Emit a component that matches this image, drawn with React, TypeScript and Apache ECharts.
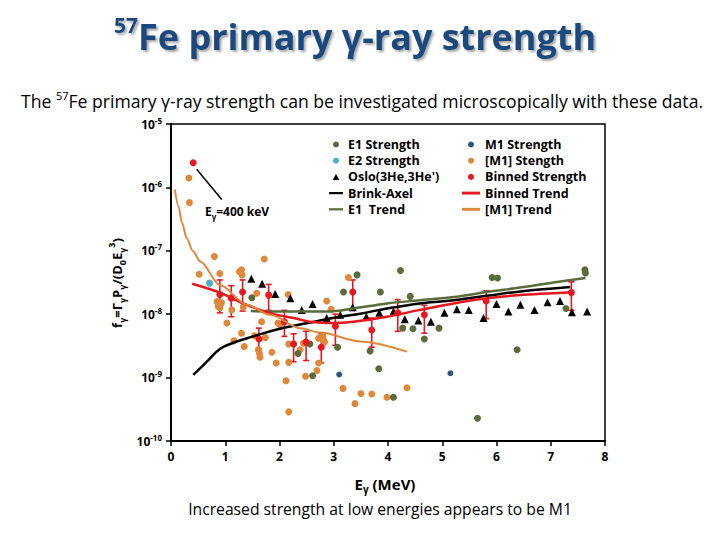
import React, { useEffect, useRef } from "react";
import * as echarts from "echarts";

const FONT = "'Open Sans', 'Noto Sans', 'DejaVu Sans', sans-serif";

// Energies in MeV, strengths f (MeV^-3)
const e1Strength = [
  [1.49, 1.82e-8], [2.34, 2.4e-9], [2.56, 3.39e-9], [2.61, 1.07e-9], [3.07, 3.02e-9],
  [3.18, 2.24e-8], [3.43, 4.17e-8], [3.67, 2.63e-9], [3.83, 1.38e-9], [3.86, 2.24e-8],
  [4.1, 4.9e-10], [4.23, 4.9e-8], [4.27, 6.03e-9], [4.41, 1.91e-8], [4.46, 5.89e-9],
  [4.67, 4.07e-9], [4.94, 6.03e-9], [5.65, 2.29e-10], [5.92, 3.8e-8], [6.02, 3.72e-8],
  [6.38, 2.75e-9], [7.28, 1.23e-8], [7.63, 5.01e-8], [7.64, 4.47e-8],
];
const m1Strength = [[3.1, 1.12e-9], [5.15, 1.17e-9]];
const e2Strength = [[0.71, 3.09e-8]];
const m1bStrength = [
  [0.33, 1.41e-6], [0.34, 5.75e-7], [0.52, 4.27e-8], [0.8, 8.13e-8], [0.9, 4.37e-8],
  [0.85, 1.58e-8], [0.88, 1.41e-8], [0.93, 1.51e-8], [0.9, 1.26e-8], [0.87, 1.32e-8],
  [1.03, 7.24e-9], [1.12, 1.17e-8], [1.16, 3.8e-9], [1.26, 4.68e-8], [1.3, 5.01e-8],
  [1.31, 4.17e-8], [1.3, 5.01e-9], [1.33, 1.29e-8], [1.35, 3.09e-9], [1.54, 4.57e-9],
  [1.58, 2.14e-8], [1.61, 2.75e-9], [1.63, 2.4e-9], [1.64, 2.09e-9], [1.67, 7.59e-9],
  [1.72, 7.41e-8], [1.74, 4.27e-9], [1.86, 2.51e-9], [1.94, 1.7e-9], [1.97, 7.24e-9],
  [2.01, 6.9e-9], [2.12, 8.91e-10], [2.16, 2.04e-8], [2.17, 3.39e-9], [2.17, 1.74e-9],
  [2.17, 2.88e-10], [2.38, 2.75e-9], [2.44, 3.47e-9], [2.48, 1.05e-9], [2.69, 1.29e-9],
  [2.72, 1.7e-9], [2.72, 4.17e-9], [2.8, 4.47e-9], [2.81, 3.89e-9], [2.83, 3.63e-9],
  [2.87, 1.62e-8], [2.95, 1.2e-8], [3.17, 6.76e-10], [3.27, 3.8e-8], [3.39, 3.89e-10],
  [3.5, 5.62e-10], [3.7, 5.5e-10], [3.98, 4.9e-10], [4.35, 6.92e-10],
];
const osloStrength = [
  [1.48, 3.63e-8], [1.68, 3.02e-8], [1.92, 2.09e-8], [2.2, 1.78e-8], [2.41, 1.17e-8],
  [2.61, 1.45e-8], [2.87, 8.71e-9], [3.12, 9.77e-9], [3.35, 1.29e-8], [3.6, 9.12e-9],
  [3.84, 1.05e-8], [4.1, 1.1e-8], [4.31, 8.32e-9], [4.56, 7.94e-9], [4.79, 7.59e-9],
  [5.04, 1.05e-8], [5.27, 1.2e-8], [5.49, 1.17e-8], [5.76, 8.71e-9], [6.0, 1.45e-8],
  [6.22, 1.1e-8], [6.44, 1.41e-8], [6.7, 1.17e-8], [6.94, 1.55e-8], [7.17, 1.62e-8],
  [7.39, 1.07e-8], [7.67, 1.1e-8],
];
// [E, f, f low, f high]
const binnedStrength = [
  [0.41, 2.45e-6, 2.45e-6, 2.45e-6],
  [0.9, 2.04e-8, 1.05e-8, 3.47e-8],
  [1.11, 1.78e-8, 9.12e-9, 2.82e-8],
  [1.32, 2.24e-8, 1.12e-8, 3.47e-8],
  [1.62, 4.07e-9, 2.88e-9, 6.03e-9],
  [1.8, 2.0e-8, 1.15e-8, 2.95e-8],
  [2.09, 7.59e-9, 4.47e-9, 1.15e-8],
  [2.26, 3.39e-9, 1.78e-9, 4.9e-9],
  [2.49, 3.63e-9, 1.86e-9, 5.37e-9],
  [2.77, 3.02e-9, 1.7e-9, 4.9e-9],
  [3.03, 6.46e-9, 3.24e-9, 1.0e-8],
  [3.35, 2.24e-8, 1.15e-8, 3.47e-8],
  [3.7, 5.62e-9, 3.02e-9, 8.71e-9],
  [4.18, 1.05e-8, 5.37e-9, 1.7e-8],
  [4.67, 9.77e-9, 5.01e-9, 1.38e-8],
  [5.81, 1.62e-8, 8.51e-9, 2.34e-8],
  [7.38, 2.19e-8, 1.15e-8, 3.24e-8],
];
const brinkAxel = [
  [0.41, 1.1e-9], [0.66, 1.78e-9], [0.9, 2.82e-9], [1.15, 3.55e-9], [1.52, 4.47e-9],
  [1.95, 5.75e-9], [2.4, 6.92e-9], [2.69, 7.76e-9], [3.12, 9.12e-9], [3.49, 1.02e-8],
  [3.98, 1.23e-8], [4.59, 1.48e-8], [5.21, 1.66e-8], [5.82, 1.95e-8], [6.44, 2.29e-8],
  [7.36, 2.69e-8],
];
const binnedTrend = [
  [0.39, 3.02e-8], [0.9, 2.19e-8], [1.33, 1.48e-8], [1.64, 1.17e-8], [1.95, 9.77e-9],
  [2.26, 8.71e-9], [2.56, 7.59e-9], [2.99, 7.24e-9], [3.36, 7.59e-9], [3.98, 9.12e-9],
  [4.59, 1.17e-8], [5.21, 1.48e-8], [5.82, 1.78e-8], [6.44, 2.0e-8], [7.36, 2.19e-8],
];
const e1Trend = [
  [1.47, 1.12e-8], [2.2, 1.1e-8], [2.9, 1.1e-8], [3.36, 1.23e-8], [3.98, 1.48e-8],
  [4.59, 1.66e-8], [5.21, 1.86e-8], [5.82, 2.24e-8], [6.44, 2.63e-8], [7.05, 3.16e-8],
  [7.64, 3.72e-8],
];
const m1Trend = [
  [0.07, 9.33e-7], [0.14, 5.01e-7], [0.2, 2.82e-7], [0.29, 1.58e-7], [0.4, 1.0e-7],
  [0.54, 6.76e-8], [0.9, 2.88e-8], [1.4, 1.41e-8], [1.83, 9.77e-9], [2.38, 6.03e-9],
  [2.75, 5.13e-9], [3.49, 3.72e-9], [4.35, 2.57e-9],
];
const xRange = [0, 8];
const yDecades = [-10, -5];
const arrowTail = [0.935, 6.46e-7];
const arrowHead = [0.474, 1.93e-6];

const C = {
  e1: "#5b6b3b",
  m1: "#2a5585",
  e2: "#4bacc6",
  m1b: "#e0883a",
  red: "#e8161e",
  black: "#000000",
};

const LINE_ICON = "path://M0,0H20V3.2H0Z";
const TRI_ICON = "path://M5,0L10,9H0Z";

function buildOption() {
  const legendText = { fontFamily: FONT, fontWeight: "bold" as const, fontSize: 12.5, color: "#000", lineHeight: 12 };
  const dot = (name: string, color: string) => ({ name, icon: "circle", itemStyle: { color, borderWidth: 0 } });
  const tri = (name: string, color: string) => ({ name, icon: TRI_ICON, itemStyle: { color, borderWidth: 0 } });
  const ln = (name: string, color: string) => ({ name, icon: LINE_ICON, itemStyle: { color, borderWidth: 0 } });
  const legendBase = {
    orient: "vertical",
    top: 138,
    padding: 0,
    itemHeight: 6,
    itemGap: 3.2,
    textStyle: legendText,
    selectedMode: false,
  };
  return {
    animation: false,
    backgroundColor: "#ffffff",
    grid: { left: 171, right: 115, top: 124, bottom: 99, show: true, borderColor: "#000", borderWidth: 1.5, backgroundColor: "transparent" },
    xAxis: {
      type: "value",
      min: xRange[0],
      max: xRange[1],
      interval: 1,
      splitLine: { show: false },
      axisLine: { lineStyle: { color: "#000", width: 2 } },
      axisTick: { inside: false, length: 5, lineStyle: { color: "#000", width: 1.5 } },
      axisLabel: { margin: 9, fontFamily: FONT, fontWeight: "bold", fontSize: 12, color: "#000" },
    },
    yAxis: {
      type: "log",
      logBase: 10,
      min: Math.pow(10, yDecades[0]),
      max: Math.pow(10, yDecades[1]),
      splitLine: { show: false },
      axisLine: { show: true, lineStyle: { color: "#000", width: 2 } },
      axisTick: { show: true, inside: false, length: 5, lineStyle: { color: "#000", width: 1.5 } },
      axisLabel: {
        margin: 9,
        formatter: (v: number) => `{b|10}{s|${Math.round(Math.log10(v))}}`,
        rich: {
          b: { fontFamily: FONT, fontWeight: "bold", fontSize: 12, color: "#000", lineHeight: 16 },
          s: { fontFamily: FONT, fontWeight: "bold", fontSize: 8, color: "#000", lineHeight: 10, verticalAlign: "top" },
        },
      },
    },
    legend: [
      {
        ...legendBase,
        left: 329,
        itemWidth: 14,
        data: [
          dot("E1 Strength", C.e1),
          dot("E2 Strength", C.e2),
          tri("Oslo(3He,3He')", C.black),
          ln("Brink-Axel", C.black),
          ln("E1  Trend", C.e1),
        ],
      },
      {
        ...legendBase,
        left: 462,
        itemWidth: 18,
        data: [
          dot("M1 Strength", C.m1),
          dot("[M1] Stength", C.m1b),
          dot("Binned Strength", C.red),
          ln("Binned Trend", C.red),
          ln("[M1] Trend", C.m1b),
        ],
      },
    ],
    series: [
      { name: "[M1] Stength", type: "scatter", data: m1bStrength, symbolSize: 7, itemStyle: { color: C.m1b, opacity: 1 } },
      { name: "E1 Strength", type: "scatter", data: e1Strength, symbolSize: 7, itemStyle: { color: C.e1, opacity: 1 } },
      { name: "M1 Strength", type: "scatter", data: m1Strength, symbolSize: 6, itemStyle: { color: C.m1, opacity: 1 } },
      { name: "E2 Strength", type: "scatter", data: e2Strength, symbolSize: 7, itemStyle: { color: C.e2, opacity: 1 } },
      { name: "Oslo(3He,3He')", type: "scatter", symbol: "triangle", data: osloStrength, symbolSize: 8, itemStyle: { color: C.black, opacity: 1 } },
      { name: "E1  Trend", type: "line", data: e1Trend, symbol: "none", smooth: 0.3, lineStyle: { color: C.e1, width: 2.5 }, itemStyle: { color: C.e1 } },
      { name: "Brink-Axel", type: "line", data: brinkAxel, symbol: "none", smooth: 0.4, lineStyle: { color: C.black, width: 2.5 }, itemStyle: { color: C.black } },
      { name: "Binned Trend", type: "line", data: binnedTrend, symbol: "none", smooth: 0.3, lineStyle: { color: C.red, width: 2.5 }, itemStyle: { color: C.red } },
      { name: "[M1] Trend", type: "line", data: m1Trend, symbol: "none", smooth: 0.3, smoothMonotone: "x", lineStyle: { color: C.m1b, width: 2 }, itemStyle: { color: C.m1b } },
      {
        name: "Binned Errors",
        type: "custom",
        data: binnedStrength,
        encode: { x: 0, y: [2, 3] },
        renderItem: (_p: any, api: any) => {
          const x = api.value(0);
          const lo = api.coord([x, api.value(2)]);
          const hi = api.coord([x, api.value(3)]);
          if (Math.abs(lo[1] - hi[1]) < 1) return { type: "group", children: [] };
          const style = { stroke: C.red, lineWidth: 1.6 };
          const cap = 3;
          return {
            type: "group",
            children: [
              { type: "line", shape: { x1: lo[0], y1: lo[1], x2: hi[0], y2: hi[1] }, style },
              { type: "line", shape: { x1: lo[0] - cap, y1: lo[1], x2: lo[0] + cap, y2: lo[1] }, style },
              { type: "line", shape: { x1: hi[0] - cap, y1: hi[1], x2: hi[0] + cap, y2: hi[1] }, style },
            ],
          };
        },
      },
      {
        name: "Binned Strength",
        type: "scatter",
        data: binnedStrength.map((d) => [d[0], d[1]]),
        symbolSize: 7,
        itemStyle: { color: C.red, opacity: 1 },
        markLine: {
          silent: true,
          symbol: ["none", "arrow"],
          symbolSize: [0, 9],
          label: { show: false },
          lineStyle: { color: "#000", width: 1.5, type: "solid" },
          data: [[{ coord: arrowTail }, { coord: arrowHead }]],
        },
      },
    ],
    graphic: [
      {
        type: "text",
        x: 114,
        y: 14,
        style: {
          text: "{sup|57}{m|Fe primary γ-ray strength}",
          textAlign: "left",
          textVerticalAlign: "top",
          align: "left",
          verticalAlign: "top",
          fill: "#1f497d",
          textShadowColor: "rgba(0,0,0,0.35)",
          textShadowBlur: 2,
          textShadowOffsetX: 2,
          textShadowOffsetY: 2,
          rich: {
            sup: { fontFamily: FONT, fontWeight: "bold", fontSize: 21, lineHeight: 26, verticalAlign: "top", fill: "#1f497d", textShadowColor: "rgba(0,0,0,0.35)", textShadowBlur: 2, textShadowOffsetX: 2, textShadowOffsetY: 2 },
            m: { fontFamily: FONT, fontWeight: "bold", fontSize: 36, lineHeight: 44, fill: "#1f497d", textShadowColor: "rgba(0,0,0,0.35)", textShadowBlur: 2, textShadowOffsetX: 2, textShadowOffsetY: 2 },
          },
        },
      },
      {
        type: "text",
        x: 362,
        y: 101,
        style: {
          text: "{r|The }{sup|57}{r|Fe primary γ-ray strength can be investigated microscopically with these data.}",
          textAlign: "center",
          textVerticalAlign: "middle",
          align: "center",
          verticalAlign: "middle",
          rich: {
            r: { fontFamily: FONT, fontSize: 17.6, lineHeight: 22, fill: "#000" },
            sup: { fontFamily: FONT, fontSize: 11, lineHeight: 13, verticalAlign: "top", fill: "#000" },
          },
        },
      },
      {
        type: "text",
        x: 117,
        y: 283,
        rotation: Math.PI / 2,
        style: {
          text: "{m|f}{s|γ}{m|=Γ}{s|γ}{m|P}{s|γ}{m|/(D}{s|0}{m|E}{s|γ}{p|3}{m|)}",
          textAlign: "center",
          textVerticalAlign: "middle",
          align: "center",
          verticalAlign: "middle",
          rich: {
            m: { fontFamily: FONT, fontWeight: "bold", fontSize: 13, lineHeight: 20, fill: "#000" },
            s: { fontFamily: FONT, fontWeight: "bold", fontSize: 9, lineHeight: 10, verticalAlign: "bottom", fill: "#000" },
            p: { fontFamily: FONT, fontWeight: "bold", fontSize: 9, lineHeight: 12, verticalAlign: "top", fill: "#000" },
          },
        },
      },
      {
        type: "text",
        x: 385,
        y: 484,
        style: {
          text: "{m|E}{s|γ}{m| (MeV)}",
          textAlign: "center",
          textVerticalAlign: "middle",
          align: "center",
          verticalAlign: "middle",
          rich: {
            m: { fontFamily: FONT, fontWeight: "bold", fontSize: 15, lineHeight: 20, fill: "#000" },
            s: { fontFamily: FONT, fontWeight: "bold", fontSize: 10, lineHeight: 10, verticalAlign: "bottom", fill: "#000" },
          },
        },
      },
      {
        type: "text",
        x: 205,
        y: 211,
        style: {
          text: "{m|E}{s|γ}{m|=400 keV}",
          textAlign: "left",
          textVerticalAlign: "middle",
          align: "left",
          verticalAlign: "middle",
          rich: {
            m: { fontFamily: FONT, fontWeight: "bold", fontSize: 12, lineHeight: 18, fill: "#000" },
            s: { fontFamily: FONT, fontWeight: "bold", fontSize: 8, lineHeight: 9, verticalAlign: "bottom", fill: "#000" },
          },
        },
      },
      {
        type: "text",
        x: 380,
        y: 509,
        style: {
          text: "Increased strength at low energies appears to be M1",
          textAlign: "center",
          textVerticalAlign: "middle",
          align: "center",
          verticalAlign: "middle",
          fontFamily: FONT,
          fontSize: 15.7,
          font: `15.7px ${FONT}`,
          fill: "#000",
        },
      },
    ],
  };
}

export default function App() {
  const ref = useRef<HTMLDivElement>(null);
  useEffect(() => {
    if (!ref.current) return;
    const chart = echarts.init(ref.current, null, { renderer: "svg" });
    chart.setOption(buildOption() as any);
    return () => chart.dispose();
  }, []);
  return (
    <div
      ref={ref}
      style={{ position: "absolute", left: 0, top: 0, width: 720, height: 540, background: "#fff" }}
    />
  );
}
